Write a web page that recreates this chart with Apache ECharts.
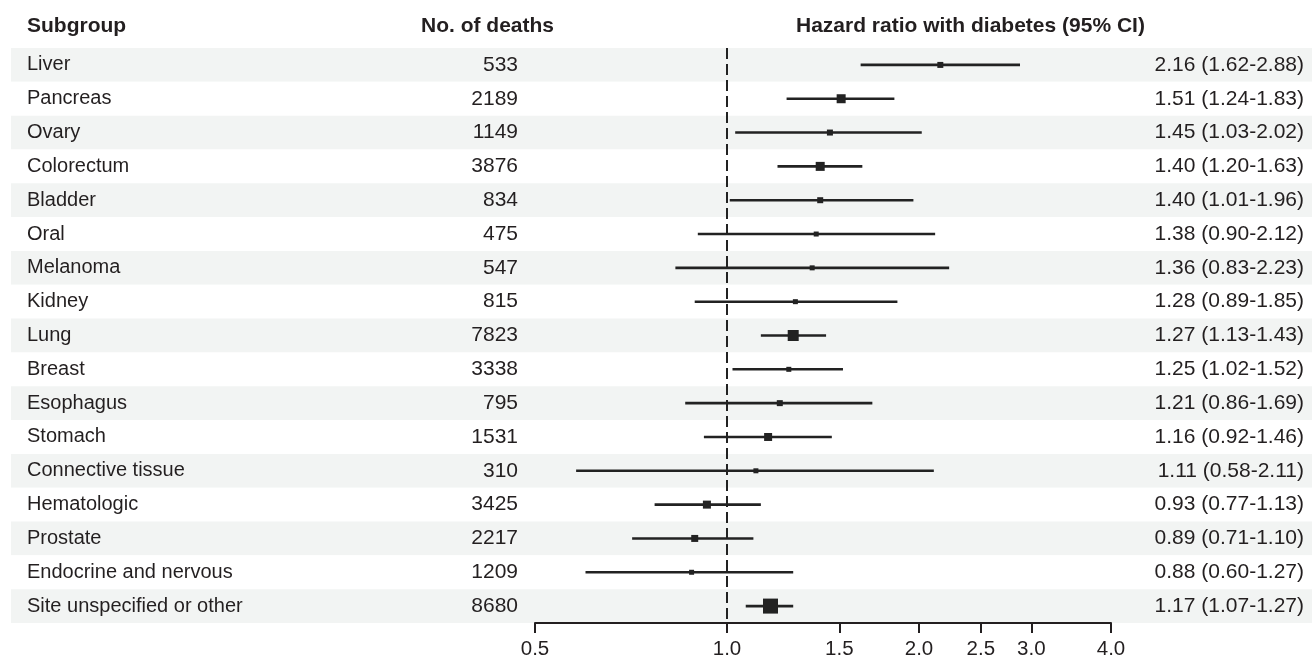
<!DOCTYPE html>
<html>
<head>
<meta charset="utf-8">
<script src="https://cdn.jsdelivr.net/npm/echarts@6/dist/echarts.min.js"></script>
<style>
html,body{margin:0;padding:0;background:#fff;}
#chart{width:1312px;height:658px;}
</style>
</head>
<body>
<div id="chart"></div>
<script>
const subgroups = ['Liver','Pancreas','Ovary','Colorectum','Bladder','Oral','Melanoma','Kidney','Lung','Breast','Esophagus','Stomach','Connective tissue','Hematologic','Prostate','Endocrine and nervous','Site unspecified or other'];
const deaths = [533,2189,1149,3876,834,475,547,815,7823,3338,795,1531,310,3425,2217,1209,8680];
const hr    = [2.16,1.51,1.45,1.40,1.40,1.38,1.36,1.28,1.27,1.25,1.21,1.16,1.11,0.93,0.89,0.88,1.17];
const lower = [1.62,1.24,1.03,1.20,1.01,0.90,0.83,0.89,1.13,1.02,0.86,0.92,0.58,0.77,0.71,0.60,1.07];
const upper = [2.88,1.83,2.02,1.63,1.96,2.12,2.23,1.85,1.43,1.52,1.69,1.46,2.11,1.13,1.10,1.27,1.27];
const boxSizes = [6,9,6,9,6,5,5,5,11,5,6,8,5,8,7,5,15];
const tickValues = [0.5,1.0,1.5,2.0,2.5,3.0,4.0];
const refValue = 1.0;

const FONT = '"Liberation Sans", Arial, Helvetica, sans-serif';
const TXT = '#231f20';
const ciText = hr.map((v,i)=> v.toFixed(2)+' ('+lower[i].toFixed(2)+'-'+upper[i].toFixed(2)+')');

const chart = echarts.init(document.getElementById('chart'), null, {renderer:'canvas'});
const seriesData = hr.map((v,i)=>[v, i, lower[i], upper[i]]);

const option = {
  animation:false,
  backgroundColor:'#ffffff',
  grid:[
    {left:11, right:0, top:48, bottom:35, outerBoundsMode:'none'},
    {left:535, right:201, top:48, bottom:35, outerBoundsMode:'none'}
  ],
  xAxis:[
    {gridIndex:0, type:'value', min:0, max:1, show:false},
    {gridIndex:1, type:'log', logBase:2, min:0.5, max:4,
     axisLine:{show:true, onZero:false, lineStyle:{color:TXT, width:2}},
     axisTick:{show:true, length:10, lineStyle:{color:TXT, width:2}, customValues:tickValues},
     axisLabel:{show:true, margin:16, color:TXT, fontSize:20.5, fontFamily:FONT, customValues:tickValues,
       formatter:(v)=>Number(v).toFixed(1)},
     splitLine:{show:false}, minorTick:{show:false}}
  ],
  yAxis:[
    {gridIndex:0, type:'category', inverse:true, data:subgroups,
     axisLine:{show:false}, axisTick:{show:false}, axisLabel:{show:false},
     splitArea:{show:true, interval:0, areaStyle:{color:['#f2f4f3','#ffffff']}}},
    {gridIndex:1, type:'category', inverse:true, data:subgroups, position:'left',
     axisLine:{show:false}, axisTick:{show:false},
     axisLabel:{interval:0, align:'left', margin:508, color:TXT, fontSize:20, fontFamily:FONT}},
    {gridIndex:1, type:'category', inverse:true, data:deaths.map(String), position:'left',
     axisLine:{show:false}, axisTick:{show:false},
     axisLabel:{interval:0, align:'right', margin:17, color:TXT, fontSize:21, fontFamily:FONT}},
    {gridIndex:1, type:'category', inverse:true, data:ciText, position:'right',
     axisLine:{show:false}, axisTick:{show:false},
     axisLabel:{interval:0, align:'right', margin:193, color:TXT, fontSize:21, fontFamily:FONT}}
  ],
  graphic:[
    {type:'text', left:27, top:16, style:{text:'Subgroup', font:'bold 21px '+FONT, fill:TXT}},
    {type:'text', left:421, top:16, style:{text:'No. of deaths', font:'bold 21px '+FONT, fill:TXT}},
    {type:'text', left:796, top:16, style:{text:'Hazard ratio with diabetes (95% CI)', font:'bold 21px '+FONT, fill:TXT}}
  ],
  series:[
    {type:'custom', xAxisIndex:1, yAxisIndex:1, data:seriesData,
     encode:{x:[0,2,3], y:1},
     renderItem:function(params, api){
       const y = api.value(1);
       const p0 = api.coord([api.value(2), y]);
       const p1 = api.coord([api.value(3), y]);
       const c = api.coord([api.value(0), y]);
       const s = boxSizes[params.dataIndex];
       return {type:'group', children:[
         {type:'line', shape:{x1:p0[0], y1:p0[1], x2:p1[0], y2:p1[1]}, style:{stroke:'#222222', lineWidth:2.6}},
         {type:'rect', shape:{x:c[0]-s/2, y:c[1]-s/2, width:s, height:s}, style:{fill:'#222222'}}
       ]};
     },
     markLine:{silent:true, symbol:['none','none'], label:{show:false},
       lineStyle:{color:'#222222', width:2, type:[11,5]},
       data:[{xAxis:refValue}]},
     z:3}
  ]
};
chart.setOption(option);
</script>
</body>
</html>
